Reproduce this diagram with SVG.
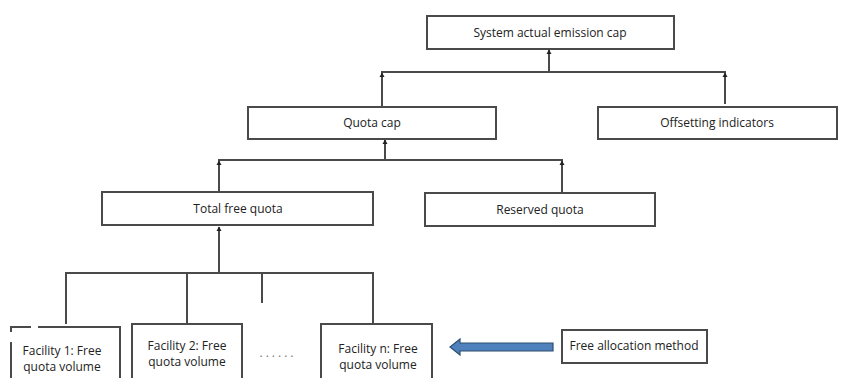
<svg xmlns="http://www.w3.org/2000/svg" width="862" height="378" viewBox="0 0 862 378">
  <style>
    .box { fill: #fff; stroke: #4a4a4a; stroke-width: 2; }
    .lbl { font-family: "Open Sans", "Noto Sans", sans-serif; font-size: 12px; fill: #222; text-anchor: middle; }
    .conn { fill: none; stroke: #4a4a4a; stroke-width: 2; }
    .tip { fill: #222; }
  </style>

  <!-- connectors -->
  <g id="connectors">
    <path class="conn" d="M549,50 V72"/>
    <path class="conn" d="M382,107 V72 H725 V104"/>
    <path class="conn" d="M385,139 V160"/>
    <path class="conn" d="M219,192 V160 H562 V192"/>
    <path class="conn" d="M219,227 V273"/>
    <path class="conn" d="M66,324 V273 H373 V324"/>
    <path class="conn" d="M187,273 V324"/>
    <path class="conn" d="M262,273 V303"/>

    <!-- small tips where branches meet -->
    <path class="tip" d="M546.5,54 L549,49.5 L551.5,54 Z"/>
    <path class="tip" d="M379.5,77 L382,72.5 L384.5,77 Z"/>
    <path class="tip" d="M722.5,77 L725,72.5 L727.5,77 Z"/>
    <path class="tip" d="M382.5,144 L385,139.5 L387.5,144 Z"/>
    <path class="tip" d="M216.5,165 L219,160.5 L221.5,165 Z"/>
    <path class="tip" d="M559.5,165 L562,160.5 L564.5,165 Z"/>
    <path class="tip" d="M216.5,231 L219,226.5 L221.5,231 Z"/>

    <!-- allocation method arrow -->
    <path d="M450,347 L460,339 L460,343 L553,343 L553,351 L460,351 L460,355 Z" fill="#4f81bd" stroke="#2f4f6f" stroke-width="1.2"/>
  </g>

  <g id="system-cap">
    <rect class="box" x="427" y="16" width="247" height="33"/>
    <text class="lbl" x="550" y="37">System actual emission cap</text>
  </g>
  <g id="quota-cap">
    <rect class="box" x="248" y="107" width="248" height="32"/>
    <text class="lbl" x="372" y="127">Quota cap</text>
  </g>
  <g id="offsetting">
    <rect class="box" x="598" y="107" width="239" height="32"/>
    <text class="lbl" x="717" y="127">Offsetting indicators</text>
  </g>
  <g id="total-free">
    <rect class="box" x="102" y="192" width="271" height="33"/>
    <text class="lbl" x="238" y="213">Total free quota</text>
  </g>
  <g id="reserved">
    <rect class="box" x="425" y="193" width="230" height="33"/>
    <text class="lbl" x="540" y="214">Reserved quota</text>
  </g>
  <g id="facility-1">
    <path fill="none" stroke="#4a4a4a" stroke-width="2" d="M11,332 V327 H31 M38,327 H120 V380 M11,342 V380"/>
    <text class="lbl" x="62" y="355">Facility 1: Free</text>
    <text class="lbl" x="62" y="371">quota volume</text>
  </g>
  <g id="facility-2">
    <path fill="#fff" stroke="#4a4a4a" stroke-width="2" d="M132,382 V324 H242 V382"/>
    <text class="lbl" x="187" y="350">Facility 2: Free</text>
    <text class="lbl" x="187" y="366">quota volume</text>
  </g>
  <text class="lbl" x="278" y="357" style="fill:#777;letter-spacing:3px">......</text>
  <g id="facility-n">
    <path fill="#fff" stroke="#4a4a4a" stroke-width="2" d="M321,382 V324 H432 V382"/>
    <text class="lbl" x="378" y="353">Facility n: Free</text>
    <text class="lbl" x="378" y="369">quota volume</text>
  </g>
  <g id="allocation-method">
    <rect class="box" x="562" y="330" width="145" height="33"/>
    <text class="lbl" x="634" y="350">Free allocation method</text>
  </g>
</svg>
